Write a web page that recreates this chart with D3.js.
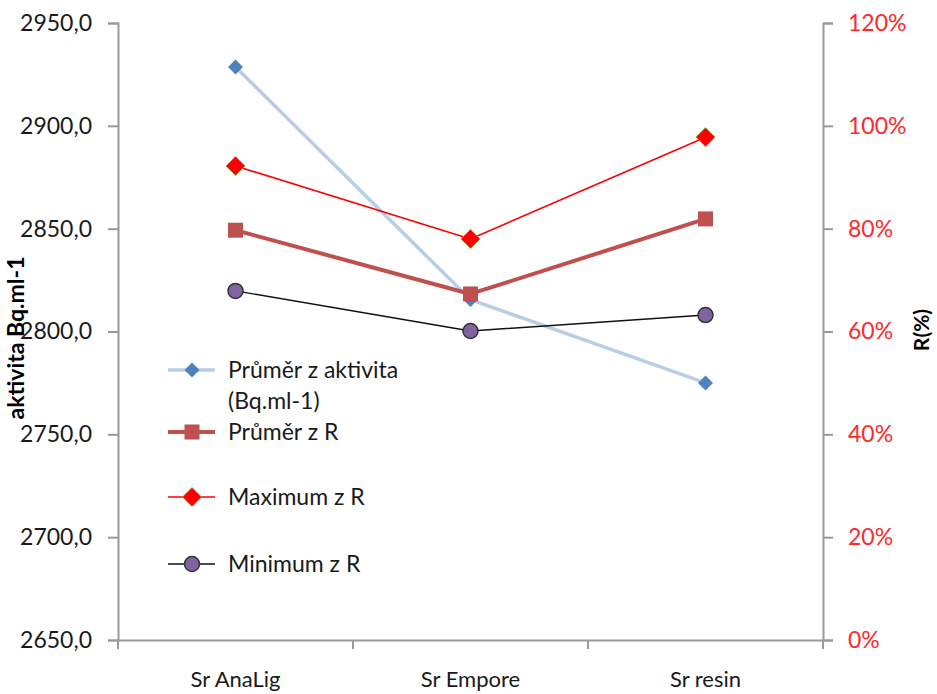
<!DOCTYPE html>
<html><head><meta charset="utf-8">
<script src="https://cdn.jsdelivr.net/npm/d3@7"></script>
<style>body{margin:0;background:#fff}svg{display:block}</style>
</head><body>
<svg id="c" width="937" height="694"></svg>
<script>
const categories = ["Sr AnaLig", "Sr Empore", "Sr resin"];
const activity = [2928.6, 2815.5, 2775.0];
const meanR = [0.797, 0.673, 0.819];
const maxR = [0.922, 0.780, 0.978];
const minR = [0.679, 0.601, 0.632];
const leftTicks = [2650, 2700, 2750, 2800, 2850, 2900, 2950];
const rightTicks = [0, 0.2, 0.4, 0.6, 0.8, 1.0, 1.2];

const svg = d3.select("#c");
const font = "Lato, 'Open Sans', sans-serif";
const L = 118, R = 823, T = 23, B = 640;
const x = d3.scaleBand().domain(categories).range([L, R]);
const yL = d3.scaleLinear().domain([2650, 2950]).range([B, T]);
const yR = d3.scaleLinear().domain([0, 1.2]).range([B, T]);
const axisCol = "#9a9a9a";

// left axis
const gL = svg.append("g").attr("transform", `translate(${L},0)`)
  .call(d3.axisLeft(yL).tickValues(leftTicks).tickSizeOuter(0).tickSize(10).tickPadding(16)
    .tickFormat(d => d3.format(".1f")(d).replace(".", ",")));
// right axis
const gR = svg.append("g").attr("transform", `translate(${R},0)`)
  .call(d3.axisRight(yR).tickValues(rightTicks).tickSizeOuter(0).tickSize(10).tickPadding(15)
    .tickFormat(d3.format(".0%")));
// bottom axis
const gB = svg.append("g").attr("transform", `translate(0,${B})`)
  .call(d3.axisBottom(x).tickSize(0).tickPadding(31));
// bottom tick marks at band boundaries
gB.selectAll(".bt").data([L, ...categories.map(c => x(c) + x.bandwidth())])
  .enter().append("line").attr("class", "bt")
  .attr("x1", d => d).attr("x2", d => d).attr("y1", 0).attr("y2", 9)
  .attr("stroke", axisCol).attr("stroke-width", 2);

[gL, gR, gB].forEach(g => {
  g.selectAll(".domain").attr("stroke", axisCol).attr("stroke-width", 2);
  g.selectAll(".tick line").attr("stroke", axisCol).attr("stroke-width", 2);
  g.selectAll("text").attr("font-family", font).attr("font-size", 23);
});
gL.selectAll("text").attr("fill", "#1a1a1a");
gR.selectAll("text").attr("fill", "#ff2a2a").attr("text-anchor", "start");
gB.selectAll("text").attr("fill", "#1a1a1a").attr("font-size", 22);

// axis titles
svg.append("text").attr("transform", "translate(24,338) rotate(-90)")
  .attr("text-anchor", "middle").attr("font-family", font).attr("font-weight", "bold")
  .attr("font-size", 23).attr("fill", "#000").text("aktivita Bq.ml-1");
svg.append("text").attr("transform", "translate(929,330) rotate(-90)")
  .attr("text-anchor", "middle").attr("font-family", font).attr("font-weight", "bold")
  .attr("font-size", 21).attr("fill", "#000").text("R(%)");

const cx = c => x(c) + x.bandwidth() / 2;

const series = [
  {name: ["Průměr z aktivita", "(Bq.ml-1)"], vals: activity, y: yL, line: "#b9cde5", lw: 3.5, marker: "diamond", fill: "#4f81bd", stroke: "#4f81bd", size: 15, sw: 0},
  {name: ["Průměr z R"], vals: meanR, y: yR, line: "#c0504d", lw: 4, marker: "square", fill: "#c0504d", stroke: "#c0504d", size: 15, sw: 0},
  {name: ["Maximum z R"], vals: maxR, y: yR, line: "#ff0000", lw: 1.6, marker: "diamond", fill: "#ff0000", stroke: "#9b9b45", size: 19, sw: 1},
  {name: ["Minimum z R"], vals: minR, y: yR, line: "#111", lw: 1.4, marker: "circle", fill: "#8064a2", stroke: "#333", size: 15, sw: 1.5}
];

function drawMarker(g, s, px, py) {
  const h = s.size / 2;
  if (s.marker === "diamond") {
    g.append("path").attr("d", `M${px},${py - h}L${px + h},${py}L${px},${py + h}L${px - h},${py}Z`)
      .attr("fill", s.fill).attr("stroke", s.stroke).attr("stroke-width", s.sw);
  } else if (s.marker === "square") {
    g.append("rect").attr("x", px - h).attr("y", py - h).attr("width", s.size).attr("height", s.size)
      .attr("fill", s.fill);
  } else {
    g.append("circle").attr("cx", px).attr("cy", py).attr("r", h)
      .attr("fill", s.fill).attr("stroke", s.stroke).attr("stroke-width", s.sw);
  }
}

series.forEach(s => {
  const line = d3.line().x((d, i) => cx(categories[i])).y(d => s.y(d));
  svg.append("path").datum(s.vals).attr("d", line).attr("fill", "none")
    .attr("stroke", s.line).attr("stroke-width", s.lw).attr("stroke-linejoin", "round");
});
series.forEach(s => {
  const g = svg.append("g");
  s.vals.forEach((v, i) => drawMarker(g, s, cx(categories[i]), s.y(v)));
});

// legend
const legY = [370, 432, 497, 564];
series.forEach((s, i) => {
  const g = svg.append("g");
  const ly = legY[i];
  g.append("line").attr("x1", 168).attr("x2", 215).attr("y1", ly).attr("y2", ly)
    .attr("stroke", s.line).attr("stroke-width", s.lw);
  drawMarker(g, s, 192, ly);
  s.name.forEach((t, j) => {
    g.append("text").attr("x", 228).attr("y", ly + 8 + j * 31)
      .attr("font-family", font).attr("font-size", 23).attr("fill", "#1a1a1a").text(t);
  });
});
</script>
</body></html>
